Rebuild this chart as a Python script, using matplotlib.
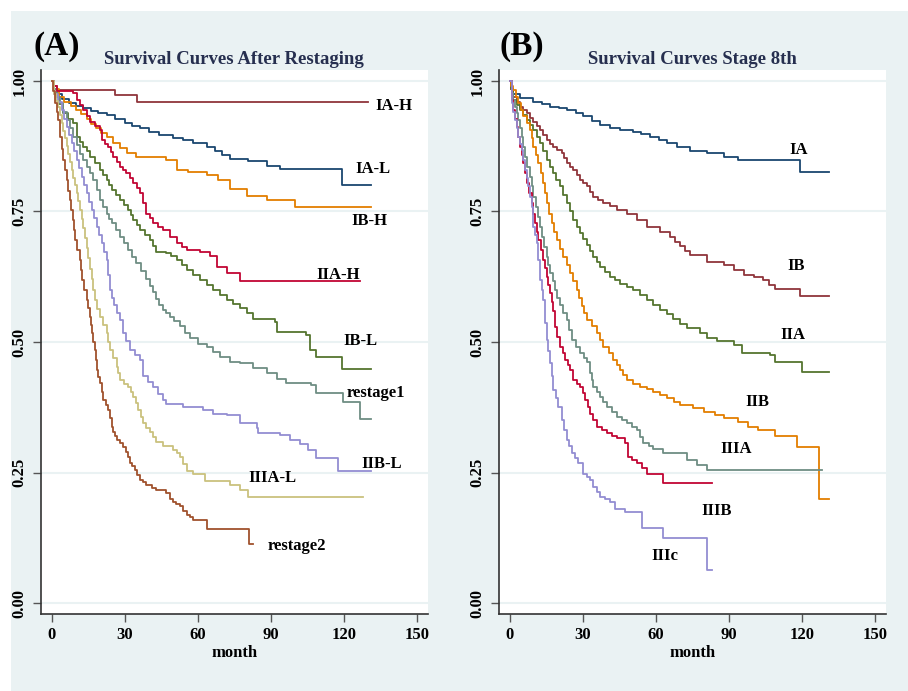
import matplotlib
matplotlib.use("Agg")
import matplotlib.pyplot as plt
from matplotlib.patches import Rectangle

plt.rcParams['font.family'] = ['Liberation Serif', 'DejaVu Serif']
plt.rcParams['font.weight'] = 'bold'

# Stata s2color palette
navy = '#1a476f'
maroon = '#90353b'
forest = '#55752f'
dkorange = '#e37e00'
teal = '#6e8e84'
cranberry = '#c10534'
lavender = '#938dd2'
khaki = '#cac27e'
sienna = '#a0522d'

# ---- panel A : after restaging ----
ia_h_t = [0, 1, 2, 26, 35, 129.6]
ia_h_s = [1, 0.99, 0.983, 0.973, 0.96, 0.96]

ia_l_t = [0, 1, 2, 4, 7, 10, 12.8, 16, 19, 22.4, 26, 30, 33, 36.1, 40, 44, 49.6, 54, 58,
          63.5, 67, 70, 73, 80.4, 88.1, 93.5, 118.9, 131.2]
ia_l_s = [1, 0.985, 0.975, 0.965, 0.958, 0.952, 0.948, 0.943, 0.939, 0.935, 0.928, 0.92, 0.914,
          0.909, 0.902, 0.897, 0.891, 0.886, 0.881, 0.874, 0.866, 0.858, 0.85, 0.847, 0.837,
          0.831, 0.801, 0.801]

ib_h_t = [0, 1, 3, 5, 8, 10, 12, 14.2, 16, 18, 20, 22.4, 25, 28, 31, 34.7, 47, 51.2, 56,
          63.5, 68, 73, 79.9, 88.1, 99.7, 131.2]
ib_h_s = [1, 0.985, 0.97, 0.96, 0.952, 0.945, 0.937, 0.928, 0.918, 0.909, 0.9, 0.893, 0.882,
          0.871, 0.862, 0.855, 0.849, 0.83, 0.825, 0.82, 0.81, 0.794, 0.78, 0.772, 0.759, 0.759]

iia_h_t = [0, 1, 1.9, 8.7, 10.1, 11.5, 12.8, 14.2, 15.6, 17.5, 19.7, 20.4, 21.8, 23.1, 24.2,
           25.2, 26.5, 27.9, 29.3, 30.6, 32, 33.4, 34.8, 36.1, 37.5, 38.8, 40.2, 41.6, 43.6,
           45.7, 48.4, 51.2, 53.3, 55.3, 60.7, 64.8, 67.6, 71.7, 77.1, 126.6]
iia_h_s = [1, 0.99, 0.98, 0.976, 0.964, 0.954, 0.944, 0.933, 0.922, 0.914, 0.906, 0.887, 0.88,
           0.874, 0.864, 0.855, 0.845, 0.836, 0.83, 0.823, 0.814, 0.804, 0.795, 0.785, 0.766,
           0.746, 0.737, 0.727, 0.721, 0.715, 0.702, 0.689, 0.682, 0.676, 0.673, 0.664, 0.644,
           0.632, 0.616, 0.616]

ib_l_t = [0, 1, 2, 3, 4.6, 6.5, 8.7, 10.1, 11.5, 12.8, 14.2, 15.6, 17.6, 19.7, 21, 22.4, 23.5,
          24.5, 26.2, 27.9, 29.6, 31.3, 32.4, 33.4, 34.8, 36.1, 38.2, 40.2, 41.5, 42.9, 47, 49,
          51.2, 53.3, 55.3, 58, 60.7, 63.5, 66.2, 69, 71.7, 74.4, 77.1, 80, 82.6, 91.5, 92.2,
          104.5, 105.8, 108.6, 118.9, 131.2]
ib_l_s = [1, 0.985, 0.97, 0.955, 0.938, 0.928, 0.919, 0.893, 0.884, 0.874, 0.865, 0.855, 0.843,
          0.83, 0.82, 0.81, 0.8, 0.791, 0.782, 0.772, 0.762, 0.753, 0.744, 0.734, 0.725, 0.715,
          0.705, 0.696, 0.684, 0.673, 0.67, 0.664, 0.657, 0.648, 0.638, 0.628, 0.619, 0.61,
          0.6, 0.59, 0.58, 0.572, 0.565, 0.555, 0.545, 0.539, 0.52, 0.513, 0.485, 0.472,
          0.448, 0.448]

restage1_t = [0, 1, 2, 3.3, 4.6, 6, 7.4, 8.7, 10.1, 11.5, 12.8, 14.2, 15.5, 16.9, 18.3, 19.7,
              21, 22.4, 23.5, 24.5, 26.2, 27.9, 29.6, 31.3, 33, 34.7, 36.7, 38.8, 40.2, 41.6,
              42.8, 44, 45.5, 47, 48.5, 50, 52.5, 54.5, 56.6, 60, 63.5, 66.2, 68.9, 73, 77.1,
              82.6, 88.1, 92.2, 96.3, 106.5, 108.6, 119.5, 126.6, 131.2]
restage1_s = [1, 0.985, 0.97, 0.957, 0.941, 0.925, 0.909, 0.893, 0.877, 0.861, 0.848, 0.836,
              0.823, 0.81, 0.791, 0.772, 0.759, 0.746, 0.736, 0.727, 0.714, 0.702, 0.689, 0.676,
              0.663, 0.651, 0.636, 0.62, 0.607, 0.595, 0.582, 0.57, 0.562, 0.555, 0.547, 0.54,
              0.53, 0.518, 0.507, 0.497, 0.491, 0.481, 0.472, 0.462, 0.459, 0.45, 0.44, 0.43,
              0.421, 0.418, 0.403, 0.386, 0.352, 0.352]

iib_l_t = [0, 1, 2.5, 4, 5, 6, 7, 8.1, 9.1, 10.1, 11.2, 12.2, 13.2, 14.2, 15.3, 16.3, 17.3,
           18.3, 19.4, 20.4, 21.4, 22.4, 23.2, 24, 24.8, 25.5, 26.7, 27.9, 29.2, 30.6, 32, 34,
           36.1, 37.5, 39.5, 41.6, 43.6, 45.7, 47, 53.9, 62.1, 66.2, 71.7, 77.1, 84, 84.6, 93.5,
           97.6, 101.7, 105, 108.6, 117.5, 131.2]
iib_l_s = [1, 0.975, 0.96, 0.944, 0.928, 0.912, 0.896, 0.881, 0.865, 0.849, 0.833, 0.817,
           0.801, 0.785, 0.769, 0.753, 0.737, 0.721, 0.705, 0.689, 0.673, 0.657, 0.629, 0.6,
           0.585, 0.57, 0.556, 0.542, 0.517, 0.501, 0.485, 0.475, 0.466, 0.434, 0.424, 0.414,
           0.401, 0.389, 0.381, 0.376, 0.37, 0.363, 0.36, 0.344, 0.335, 0.325, 0.322, 0.312,
           0.305, 0.293, 0.277, 0.252, 0.252]

iiia_l_t = [0, 1, 1.8, 2.6, 3.3, 4, 4.7, 5.3, 6, 6.7, 7.4, 8.1, 8.8, 9.4, 10.1, 10.8, 11.5,
            12.2, 12.9, 13.5, 14.2, 15, 15.6, 16.3, 17, 17.6, 18.6, 19.7, 21, 22.4, 23.1, 23.8,
            25.2, 26.5, 27.2, 27.9, 29.5, 31.3, 32.3, 33.4, 34.4, 35.4, 36.4, 37.5, 38.8, 40.2,
            41.5, 42.9, 45.7, 49.8, 51.2, 52.5, 54, 55.3, 58, 62.8, 73, 77.1, 80.5, 127.7]
iiia_l_s = [1, 0.975, 0.962, 0.95, 0.935, 0.92, 0.905, 0.89, 0.875, 0.86, 0.845, 0.83, 0.815,
            0.8, 0.785, 0.77, 0.752, 0.735, 0.718, 0.7, 0.68, 0.66, 0.64, 0.62, 0.6, 0.58,
            0.564, 0.548, 0.532, 0.517, 0.5, 0.485, 0.469, 0.453, 0.44, 0.427, 0.42, 0.414,
            0.405, 0.395, 0.383, 0.37, 0.357, 0.344, 0.336, 0.328, 0.318, 0.309, 0.3, 0.293,
            0.287, 0.28, 0.266, 0.252, 0.247, 0.234, 0.226, 0.216, 0.204, 0.204]

restage2_t = [0, 0.5, 1.2, 1.9, 2.6, 3.3, 4, 4.6, 5.3, 6, 6.7, 7.4, 8, 8.7, 9.1, 9.4, 10.4,
              11.5, 11.8, 12.2, 13.2, 14.2, 15, 15.6, 16, 16.3, 17, 17.6, 18, 18.3, 19, 19.7,
              20.4, 21, 22, 23.1, 23.8, 24.5, 25.2, 25.8, 26.8, 27.9, 29.2, 30.6, 31.3, 32, 33,
              34.1, 35.1, 36.1, 37.5, 38.8, 41, 42.9, 47, 48.5, 49.8, 51, 52.5, 54, 55.3, 56.5,
              58, 63.5, 80.9, 82.6]
restage2_s = [1, 0.98, 0.957, 0.94, 0.925, 0.893, 0.87, 0.849, 0.83, 0.81, 0.79, 0.772, 0.752,
              0.734, 0.715, 0.695, 0.676, 0.657, 0.638, 0.619, 0.6, 0.58, 0.565, 0.548, 0.532,
              0.517, 0.5, 0.485, 0.465, 0.446, 0.433, 0.421, 0.405, 0.389, 0.38, 0.37, 0.354,
              0.338, 0.328, 0.319, 0.312, 0.306, 0.298, 0.29, 0.279, 0.268, 0.262, 0.255, 0.245,
              0.236, 0.231, 0.226, 0.221, 0.216, 0.21, 0.2, 0.194, 0.19, 0.185, 0.176, 0.169,
              0.164, 0.159, 0.142, 0.113, 0.113]

# ---- panel B : 8th edition stages ----
ia_t = [0, 0.5, 1.4, 4.1, 9.6, 13, 16.4, 20, 23.3, 27, 30.1, 33.5, 37, 41.1, 45, 50.7, 54,
        57.5, 61, 64.4, 68.5, 74, 80.8, 87.7, 93.8, 118.9, 130.8]
ia_s = [1, 0.985, 0.975, 0.967, 0.96, 0.956, 0.951, 0.948, 0.944, 0.938, 0.932, 0.924, 0.916,
        0.909, 0.906, 0.903, 0.898, 0.893, 0.887, 0.881, 0.873, 0.865, 0.862, 0.855, 0.849,
        0.825, 0.825]

ib_t = [0, 0.5, 1.4, 2.7, 4.1, 5.5, 6.9, 8.2, 9.6, 11, 12.3, 13.7, 15.1, 16.4, 17.8, 19.5,
        21.2, 22.3, 23.3, 24.6, 26, 27.4, 28.8, 30.1, 31.5, 32.9, 34.2, 36.3, 38.4, 41.1, 43.8,
        48, 52.1, 56.2, 61.6, 65.8, 67.9, 69.9, 72, 74, 80.8, 87.7, 91.8, 95.9, 100, 104.1,
        106.2, 108.9, 118.9, 130.8]
ib_s = [1, 0.985, 0.97, 0.96, 0.951, 0.944, 0.938, 0.93, 0.922, 0.914, 0.906, 0.896, 0.887,
        0.88, 0.874, 0.868, 0.862, 0.852, 0.842, 0.836, 0.83, 0.82, 0.81, 0.804, 0.798, 0.788,
        0.778, 0.772, 0.766, 0.76, 0.753, 0.746, 0.734, 0.721, 0.711, 0.702, 0.692, 0.683,
        0.675, 0.667, 0.654, 0.648, 0.638, 0.628, 0.625, 0.619, 0.609, 0.602, 0.588, 0.588]

iia_t = [0, 0.5, 1.4, 2.7, 4.1, 5.5, 6.9, 8.2, 9.6, 11, 12.3, 13.7, 15.1, 16.4, 17.8, 19.1,
         20.5, 21.9, 23.3, 24.6, 26, 27.4, 28.8, 30.1, 31.5, 32.9, 34.2, 35.6, 37, 39, 41.1,
         43.2, 45.2, 48, 50.7, 53.4, 56.2, 58.9, 61.6, 64.3, 67.1, 69.8, 72.6, 78.1, 80.8, 84.9,
         91.8, 95.2, 106.8, 108.9, 119.9, 130.8]
iia_s = [1, 0.985, 0.964, 0.954, 0.944, 0.934, 0.925, 0.915, 0.906, 0.893, 0.881, 0.865,
         0.849, 0.836, 0.823, 0.81, 0.798, 0.782, 0.766, 0.75, 0.734, 0.721, 0.708, 0.697,
         0.686, 0.674, 0.663, 0.654, 0.644, 0.634, 0.625, 0.618, 0.612, 0.606, 0.6, 0.59, 0.58,
         0.57, 0.561, 0.553, 0.545, 0.535, 0.526, 0.517, 0.507, 0.501, 0.494, 0.478, 0.475,
         0.462, 0.443, 0.443]

iib_t = [0, 0.5, 1.4, 2.4, 3.4, 4.5, 5.5, 6.9, 8.2, 8.9, 9.6, 10.6, 11.6, 12.7, 13.7, 14.4,
         15.1, 16.1, 17.1, 18.2, 19.2, 20.6, 21.9, 23.3, 24.7, 26, 27.4, 28.5, 29.5, 30.5, 31.5,
         33.5, 35.6, 37, 38.4, 40.5, 42.5, 43.9, 45.2, 46.6, 48, 50.7, 53.4, 56.2, 58.9, 61.7,
         64.4, 67.2, 69.9, 75.3, 79.5, 84.2, 87.7, 93.8, 97.9, 102, 108.9, 117.8, 126.7, 130.8]
iib_s = [1, 0.99, 0.983, 0.97, 0.957, 0.945, 0.932, 0.919, 0.906, 0.89, 0.874, 0.858, 0.842,
         0.823, 0.804, 0.785, 0.766, 0.746, 0.727, 0.711, 0.695, 0.679, 0.663, 0.647, 0.632,
         0.616, 0.6, 0.584, 0.568, 0.555, 0.542, 0.53, 0.517, 0.504, 0.491, 0.478, 0.466,
         0.456, 0.446, 0.436, 0.427, 0.42, 0.414, 0.41, 0.405, 0.398, 0.392, 0.385, 0.379,
         0.373, 0.366, 0.36, 0.354, 0.347, 0.338, 0.331, 0.319, 0.299, 0.199, 0.199]

iiia_t = [0, 0.7, 1.4, 2.1, 2.8, 3.4, 4.1, 4.8, 5.5, 6.2, 7.2, 8.2, 8.9, 9.6, 10.6, 11.6, 12.3,
          13, 14, 15.1, 15.7, 16.4, 17.5, 18.5, 19.5, 20.5, 21.9, 23.3, 24.3, 25.4, 27.1, 28.8,
          30.2, 31.5, 32.9, 33.5, 34.2, 35.6, 37, 38.4, 39.7, 41.8, 43.8, 45.9, 48, 50, 52.1,
          53.5, 54.8, 56.9, 58.9, 63, 72.6, 76.7, 80.8, 128.1]
iiia_s = [1, 0.976, 0.963, 0.951, 0.938, 0.925, 0.909, 0.893, 0.874, 0.855, 0.836, 0.817,
          0.798, 0.778, 0.759, 0.74, 0.721, 0.702, 0.682, 0.663, 0.647, 0.632, 0.616, 0.6,
          0.585, 0.57, 0.556, 0.542, 0.523, 0.504, 0.491, 0.478, 0.47, 0.462, 0.44, 0.427,
          0.414, 0.404, 0.395, 0.386, 0.376, 0.366, 0.357, 0.35, 0.344, 0.338, 0.331, 0.318,
          0.306, 0.301, 0.296, 0.287, 0.274, 0.264, 0.255, 0.255]

iiib_t = [0, 0.7, 1.4, 2, 2.7, 3.4, 4.1, 4.8, 5.5, 6.2, 6.9, 7.9, 8.9, 9.6, 10.3, 11, 11.6,
          12.7, 13.7, 14.4, 15.1, 15.7, 16.4, 17.1, 17.8, 18.5, 19.5, 20.5, 21.6, 22.6, 23.7,
          24.7, 26, 27.4, 28.8, 29.8, 30.8, 31.9, 32.9, 34.2, 35.6, 37.6, 39.7, 41.7, 43.8,
          47.3, 48.6, 50.3, 52.1, 54.1, 56.2, 63, 82.9]
iiib_s = [1, 0.964, 0.944, 0.928, 0.912, 0.893, 0.874, 0.858, 0.842, 0.823, 0.804, 0.785,
          0.766, 0.746, 0.727, 0.711, 0.695, 0.676, 0.657, 0.641, 0.625, 0.609, 0.593, 0.576,
          0.56, 0.529, 0.51, 0.491, 0.478, 0.466, 0.456, 0.446, 0.427, 0.42, 0.414, 0.402,
          0.389, 0.376, 0.363, 0.35, 0.338, 0.331, 0.325, 0.32, 0.316, 0.306, 0.28, 0.274,
          0.268, 0.258, 0.248, 0.23, 0.23]

iiic_t = [0, 0.7, 1.4, 2.1, 2.8, 3.4, 4.1, 4.8, 5.5, 6.2, 6.9, 7.5, 8.2, 8.9, 9.6, 10.3, 11,
          11.6, 12.3, 13, 13.7, 14.4, 15.1, 15.8, 16.4, 17.1, 17.8, 18.9, 19.9, 21.2, 22.3,
          23.3, 24.4, 25.4, 26.8, 28.1, 30.1, 31.5, 32.9, 34.2, 35.6, 37, 39, 41.1, 43.2, 47.3,
          54.1, 63, 80.7, 83]
iiic_s = [1, 0.957, 0.941, 0.925, 0.909, 0.893, 0.88, 0.868, 0.849, 0.83, 0.814, 0.798, 0.778,
          0.759, 0.721, 0.705, 0.689, 0.657, 0.619, 0.6, 0.58, 0.536, 0.504, 0.482, 0.459,
          0.434, 0.408, 0.392, 0.376, 0.351, 0.332, 0.312, 0.3, 0.287, 0.277, 0.268, 0.248,
          0.242, 0.236, 0.223, 0.213, 0.204, 0.199, 0.194, 0.181, 0.175, 0.143, 0.124, 0.063,
          0.063]

curves_a = [
    (ia_l_t, ia_l_s, navy, 'IA-L', 131.7, 0.831),
    (ia_h_t, ia_h_s, maroon, 'IA-H', 140.3, 0.952),
    (ib_l_t, ib_l_s, forest, 'IB-L', 126.7, 0.502),
    (ib_h_t, ib_h_s, dkorange, 'IB-H', 130.3, 0.732),
    (restage1_t, restage1_s, teal, 'restage1', 133.1, 0.402),
    (iia_h_t, iia_h_s, cranberry, 'IIA-H', 117.6, 0.628),
    (iib_l_t, iib_l_s, lavender, 'IIB-L', 135.2, 0.266),
    (iiia_l_t, iiia_l_s, khaki, 'IIIA-L', 90.5, 0.239),
    (restage2_t, restage2_s, sienna, 'restage2', 100.6, 0.110),
]
curves_b = [
    (ia_t, ia_s, navy, 'IA', 118.5, 0.868),
    (ib_t, ib_s, maroon, 'IB', 117.7, 0.646),
    (iia_t, iia_s, forest, 'IIA', 116.3, 0.513),
    (iib_t, iib_s, dkorange, 'IIB', 101.7, 0.386),
    (iiia_t, iiia_s, teal, 'IIIA', 92.8, 0.296),
    (iiib_t, iiib_s, cranberry, 'IIIB', 84.7, 0.177),
    (iiic_t, iiic_s, lavender, 'IIIc', 63.7, 0.090),
]

bg = '#eaf2f3'
W, H = 908, 691
fig = plt.figure(figsize=(W / 100, H / 100), dpi=100, facecolor='white')
fig.patches.append(Rectangle((11 / W, 0), 1, 1 - 11 / H, transform=fig.transFigure,
                             facecolor=bg, edgecolor='none', zorder=-10))

ax_a = fig.add_axes([41 / W, 1 - 614 / H, 387 / W, 544 / H])
ax_b = fig.add_axes([499 / W, 1 - 614 / H, 387 / W, 544 / H])

for ax, curves in [(ax_a, curves_a), (ax_b, curves_b)]:
    ax.set_facecolor('white')
    for t, s, c, name, lx, ly in curves:
        ax.step(t, s, where='post', color=c, lw=1.3)
        ax.text(lx, ly, name, fontsize=12, fontweight='bold', ha='center', va='center')
    ax.set_xlim(-4.5, 154.4)
    ax.set_ylim(-0.021, 1.021)
    ax.set_xticks([0, 30, 60, 90, 120, 150])
    ax.set_yticks([0, 0.25, 0.5, 0.75, 1.0])
    ax.set_yticklabels(['0.00', '0.25', '0.50', '0.75', '1.00'])
    ax.grid(axis='y', color=bg, lw=1.5)
    ax.set_axisbelow(True)
    for side in ['top', 'right']:
        ax.spines[side].set_visible(False)
    for side in ['left', 'bottom']:
        ax.spines[side].set_color('#333333')
        ax.spines[side].set_linewidth(1.2)
    ax.tick_params(axis='both', direction='out', length=5.5, width=1, color='#555555',
                   labelsize=12, pad=4)
    ax.tick_params(axis='y', labelrotation=90)
    for lab in ax.get_yticklabels():
        lab.set_va('center')
    ax.set_xlabel('month', fontsize=12, fontweight='bold', labelpad=1)

fig.text(234 / W, 1 - 59 / H, 'Survival Curves After Restaging', fontsize=13.5,
         fontweight='bold', color='#262f4f', ha='center', va='center')
fig.text(692 / W, 1 - 59 / H, 'Survival Curves Stage 8th', fontsize=13.5,
         fontweight='bold', color='#262f4f', ha='center', va='center')
fig.text(57 / W, 1 - 47 / H, '(A)', fontsize=24, fontweight='bold', ha='center', va='center')
fig.text(522 / W, 1 - 47 / H, '(B)', fontsize=24, fontweight='bold', ha='center', va='center')

fig.savefig('out.png', dpi=100, facecolor=fig.get_facecolor())
